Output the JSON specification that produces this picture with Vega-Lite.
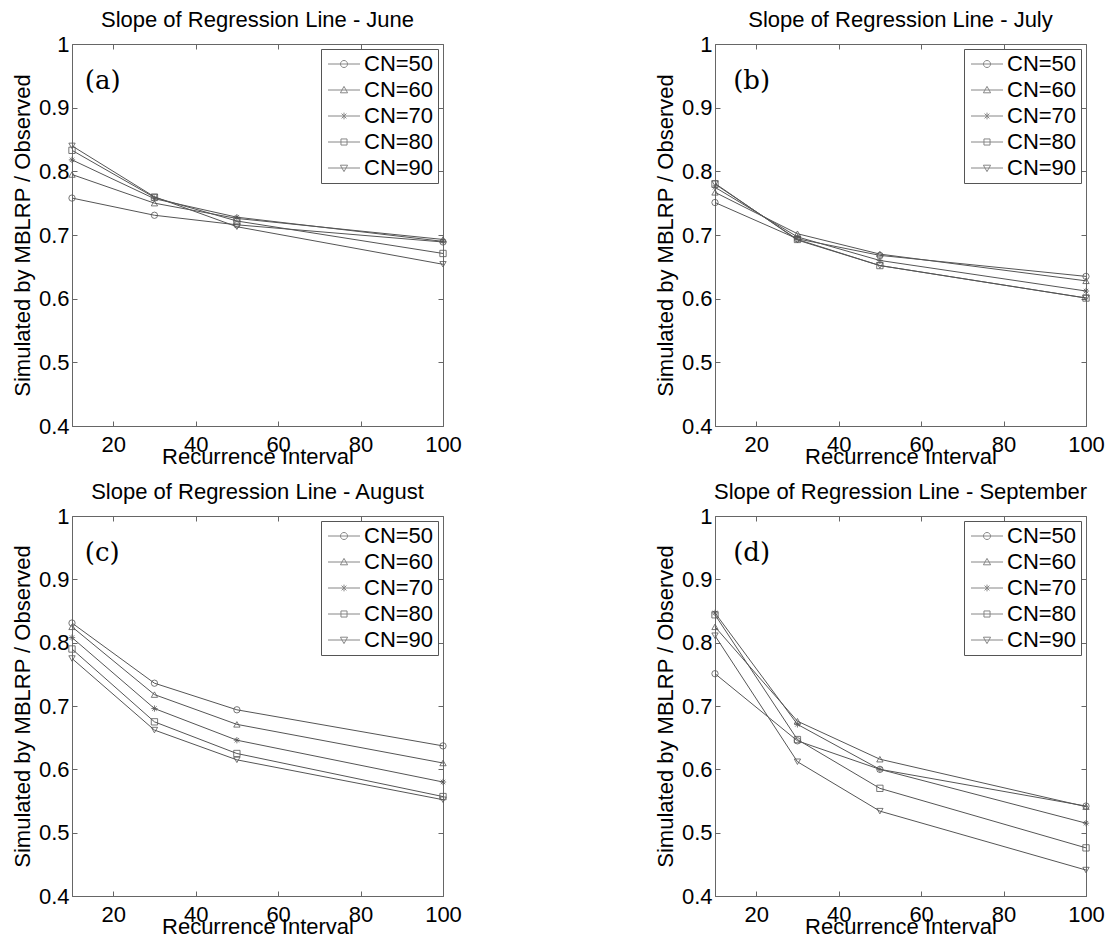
{
  "$schema": "https://vega.github.io/schema/vega-lite/v6.json",
  "background": "white",
  "padding": {"left": 10, "top": 8, "right": 5, "bottom": 5},
  "datasets": {
    "slopes": [
      {"month": "June", "ri": 10, "cn": "CN=50", "slope": 0.758},
      {"month": "June", "ri": 10, "cn": "CN=60", "slope": 0.795},
      {"month": "June", "ri": 10, "cn": "CN=70", "slope": 0.818},
      {"month": "June", "ri": 10, "cn": "CN=80", "slope": 0.833},
      {"month": "June", "ri": 10, "cn": "CN=90", "slope": 0.840},
      {"month": "June", "ri": 30, "cn": "CN=50", "slope": 0.731},
      {"month": "June", "ri": 30, "cn": "CN=60", "slope": 0.750},
      {"month": "June", "ri": 30, "cn": "CN=70", "slope": 0.757},
      {"month": "June", "ri": 30, "cn": "CN=80", "slope": 0.759},
      {"month": "June", "ri": 30, "cn": "CN=90", "slope": 0.760},
      {"month": "June", "ri": 50, "cn": "CN=50", "slope": 0.716},
      {"month": "June", "ri": 50, "cn": "CN=60", "slope": 0.726},
      {"month": "June", "ri": 50, "cn": "CN=70", "slope": 0.728},
      {"month": "June", "ri": 50, "cn": "CN=80", "slope": 0.722},
      {"month": "June", "ri": 50, "cn": "CN=90", "slope": 0.713},
      {"month": "June", "ri": 100, "cn": "CN=50", "slope": 0.689},
      {"month": "June", "ri": 100, "cn": "CN=60", "slope": 0.693},
      {"month": "June", "ri": 100, "cn": "CN=70", "slope": 0.690},
      {"month": "June", "ri": 100, "cn": "CN=80", "slope": 0.671},
      {"month": "June", "ri": 100, "cn": "CN=90", "slope": 0.654},
      {"month": "July", "ri": 10, "cn": "CN=50", "slope": 0.751},
      {"month": "July", "ri": 10, "cn": "CN=60", "slope": 0.767},
      {"month": "July", "ri": 10, "cn": "CN=70", "slope": 0.775},
      {"month": "July", "ri": 10, "cn": "CN=80", "slope": 0.780},
      {"month": "July", "ri": 10, "cn": "CN=90", "slope": 0.781},
      {"month": "July", "ri": 30, "cn": "CN=50", "slope": 0.694},
      {"month": "July", "ri": 30, "cn": "CN=60", "slope": 0.702},
      {"month": "July", "ri": 30, "cn": "CN=70", "slope": 0.697},
      {"month": "July", "ri": 30, "cn": "CN=80", "slope": 0.693},
      {"month": "July", "ri": 30, "cn": "CN=90", "slope": 0.692},
      {"month": "July", "ri": 50, "cn": "CN=50", "slope": 0.668},
      {"month": "July", "ri": 50, "cn": "CN=60", "slope": 0.670},
      {"month": "July", "ri": 50, "cn": "CN=70", "slope": 0.660},
      {"month": "July", "ri": 50, "cn": "CN=80", "slope": 0.652},
      {"month": "July", "ri": 50, "cn": "CN=90", "slope": 0.652},
      {"month": "July", "ri": 100, "cn": "CN=50", "slope": 0.635},
      {"month": "July", "ri": 100, "cn": "CN=60", "slope": 0.628},
      {"month": "July", "ri": 100, "cn": "CN=70", "slope": 0.612},
      {"month": "July", "ri": 100, "cn": "CN=80", "slope": 0.601},
      {"month": "July", "ri": 100, "cn": "CN=90", "slope": 0.601},
      {"month": "August", "ri": 10, "cn": "CN=50", "slope": 0.831},
      {"month": "August", "ri": 10, "cn": "CN=60", "slope": 0.825},
      {"month": "August", "ri": 10, "cn": "CN=70", "slope": 0.808},
      {"month": "August", "ri": 10, "cn": "CN=80", "slope": 0.790},
      {"month": "August", "ri": 10, "cn": "CN=90", "slope": 0.775},
      {"month": "August", "ri": 30, "cn": "CN=50", "slope": 0.736},
      {"month": "August", "ri": 30, "cn": "CN=60", "slope": 0.718},
      {"month": "August", "ri": 30, "cn": "CN=70", "slope": 0.696},
      {"month": "August", "ri": 30, "cn": "CN=80", "slope": 0.675},
      {"month": "August", "ri": 30, "cn": "CN=90", "slope": 0.662},
      {"month": "August", "ri": 50, "cn": "CN=50", "slope": 0.694},
      {"month": "August", "ri": 50, "cn": "CN=60", "slope": 0.671},
      {"month": "August", "ri": 50, "cn": "CN=70", "slope": 0.646},
      {"month": "August", "ri": 50, "cn": "CN=80", "slope": 0.625},
      {"month": "August", "ri": 50, "cn": "CN=90", "slope": 0.615},
      {"month": "August", "ri": 100, "cn": "CN=50", "slope": 0.637},
      {"month": "August", "ri": 100, "cn": "CN=60", "slope": 0.610},
      {"month": "August", "ri": 100, "cn": "CN=70", "slope": 0.580},
      {"month": "August", "ri": 100, "cn": "CN=80", "slope": 0.557},
      {"month": "August", "ri": 100, "cn": "CN=90", "slope": 0.552},
      {"month": "September", "ri": 10, "cn": "CN=50", "slope": 0.751},
      {"month": "September", "ri": 10, "cn": "CN=60", "slope": 0.825},
      {"month": "September", "ri": 10, "cn": "CN=70", "slope": 0.847},
      {"month": "September", "ri": 10, "cn": "CN=80", "slope": 0.844},
      {"month": "September", "ri": 10, "cn": "CN=90", "slope": 0.811},
      {"month": "September", "ri": 30, "cn": "CN=50", "slope": 0.645},
      {"month": "September", "ri": 30, "cn": "CN=60", "slope": 0.676},
      {"month": "September", "ri": 30, "cn": "CN=70", "slope": 0.671},
      {"month": "September", "ri": 30, "cn": "CN=80", "slope": 0.647},
      {"month": "September", "ri": 30, "cn": "CN=90", "slope": 0.612},
      {"month": "September", "ri": 50, "cn": "CN=50", "slope": 0.600},
      {"month": "September", "ri": 50, "cn": "CN=60", "slope": 0.616},
      {"month": "September", "ri": 50, "cn": "CN=70", "slope": 0.600},
      {"month": "September", "ri": 50, "cn": "CN=80", "slope": 0.570},
      {"month": "September", "ri": 50, "cn": "CN=90", "slope": 0.534},
      {"month": "September", "ri": 100, "cn": "CN=50", "slope": 0.542},
      {"month": "September", "ri": 100, "cn": "CN=60", "slope": 0.541},
      {"month": "September", "ri": 100, "cn": "CN=70", "slope": 0.515},
      {"month": "September", "ri": 100, "cn": "CN=80", "slope": 0.476},
      {"month": "September", "ri": 100, "cn": "CN=90", "slope": 0.441}
    ],
    "panels": [
      {"month": "June", "label": "(a)"},
      {"month": "July", "label": "(b)"},
      {"month": "August", "label": "(c)"},
      {"month": "September", "label": "(d)"}
    ]
  },
  "config": {
    "font": "Liberation Sans",
    "view": {"stroke": "#666666", "strokeWidth": 1},
    "axis": {
      "grid": false,
      "domainColor": "#666666",
      "tickColor": "#666666",
      "tickSize": -5,
      "labelFlush": false,
      "labelOverlap": false,
      "labelFont": "Liberation Sans",
      "labelFontSize": 22,
      "labelColor": "black",
      "titleFont": "Liberation Sans",
      "titleFontSize": 22,
      "titleFontWeight": "normal",
      "titleColor": "black"
    },
    "axisX": {"labelPadding": 13, "titleY": 37, "titleBaseline": "alphabetic"},
    "axisY": {"labelPadding": 8, "titleX": -50, "titleBaseline": "middle"},
    "axisTop": {"maxExtent": 0, "minExtent": 0},
    "axisRight": {"maxExtent": 0, "minExtent": 0},
    "title": {
      "font": "Liberation Sans",
      "fontSize": 22,
      "fontWeight": "normal",
      "color": "black",
      "offset": 1,
      "baseline": "alphabetic",
      "frame": "group",
      "anchor": "middle"
    },
    "legend": {
      "orient": "top-right",
      "offset": 5,
      "padding": 4,
      "strokeColor": "#555555",
      "fillColor": "white",
      "labelFont": "Liberation Sans",
      "labelFontSize": 22,
      "labelColor": "black",
      "labelOffset": 17,
      "symbolSize": 256,
      "symbolStrokeWidth": 1,
      "symbolStrokeColor": "#555555",
      "rowPadding": 4
    }
  },
  "bounds": "flush",
  "columns": 2,
  "spacing": {"row": 90, "column": 272},
  "concat": [
        {
          "width": 371, "height": 382,
          "title": "Slope of Regression Line - June",
          "data": {"name": "slopes"},
          "transform": [{"filter": "datum.month === 'June'"}],
          "resolve": {"axis": {"x": "independent", "y": "independent"}, "scale": {"shape": "independent"}, "legend": {"shape": "independent"}},
          "layer": [
            {"mark": {"type": "line", "color": "#555555", "strokeWidth": 1},
             "encoding": {
               "x": {"field": "ri", "type": "quantitative", "scale": {"domain": [10, 100], "nice": false, "zero": false}, "axis": {"orient": "bottom", "title": "Recurrence Interval", "values": [20, 40, 60, 80, 100]}},
               "y": {"field": "slope", "type": "quantitative", "scale": {"domain": [0.4, 1], "nice": false, "zero": false}, "axis": {"orient": "left", "title": "Simulated by MBLRP / Observed", "values": [0.4, 0.5, 0.6, 0.7, 0.8, 0.9, 1], "format": ".1~f"}},
               "detail": {"field": "cn", "type": "nominal"}
             }},
            {"mark": {"type": "point", "filled": false, "color": "#555555", "strokeWidth": 0.8, "size": 40, "opacity": 1},
             "encoding": {
               "x": {"field": "ri", "type": "quantitative", "scale": {"domain": [10, 100], "nice": false, "zero": false}, "axis": {"orient": "top", "labels": false, "title": null, "domain": false, "values": [20, 40, 60, 80, 100]}},
               "y": {"field": "slope", "type": "quantitative", "scale": {"domain": [0.4, 1], "nice": false, "zero": false}, "axis": {"orient": "right", "labels": false, "title": null, "domain": false, "values": [0.4, 0.5, 0.6, 0.7, 0.8, 0.9, 1]}},
               "shape": {"field": "cn", "type": "nominal", "scale": {"domain": ["CN=50", "CN=60", "CN=70", "CN=80", "CN=90"], "range": ["circle", "triangle-up", "M-1,0L1,0M0,-1L0,1M-0.7,-0.7L0.7,0.7M-0.7,0.7L0.7,-0.7", "square", "triangle-down"]}, "legend": null}
             }},
            {"transform": [{"filter": "datum.cn === 'none'"}],
             "mark": {"type": "point", "filled": false, "color": "#555555", "strokeWidth": 1},
             "encoding": {
               "x": {"field": "ri", "type": "quantitative", "scale": {"domain": [10, 100], "nice": false, "zero": false}, "axis": null},
               "y": {"field": "slope", "type": "quantitative", "scale": {"domain": [0.4, 1], "nice": false, "zero": false}, "axis": null},
               "shape": {"field": "cn", "type": "nominal", "scale": {"domain": ["CN=50", "CN=60", "CN=70", "CN=80", "CN=90"], "range": ["M-1,0L3,0M1.44,0A0.44,0.44 0 1,1 0.56,0A0.44,0.44 0 1,1 1.44,0", "M-1,0L3,0M1,-0.45L1.45,0.35L0.55,0.35Z", "M-1,0L3,0M1,-0.42L1,0.42M0.7,-0.3L1.3,0.3M0.7,0.3L1.3,-0.3", "M-1,0L3,0M0.62,-0.38L1.38,-0.38L1.38,0.38L0.62,0.38Z", "M-1,0L3,0M1,0.45L1.45,-0.35L0.55,-0.35Z"]}, "legend": {"title": null}}
             }},
            {"data": {"name": "panels"},
             "transform": [{"filter": "datum.month === 'June'"}],
             "mark": {"type": "text", "font": "DejaVu Serif", "fontSize": 26, "align": "left", "baseline": "alphabetic", "color": "black"},
             "encoding": {
               "x": {"datum": 13.1, "type": "quantitative", "scale": {"domain": [10, 100], "nice": false, "zero": false}, "axis": null},
               "y": {"datum": 0.929, "type": "quantitative", "scale": {"domain": [0.4, 1], "nice": false, "zero": false}, "axis": null},
               "text": {"field": "label"}
             }}
          ]
        },
        {
          "width": 371, "height": 382,
          "title": "Slope of Regression Line - July",
          "data": {"name": "slopes"},
          "transform": [{"filter": "datum.month === 'July'"}],
          "resolve": {"axis": {"x": "independent", "y": "independent"}, "scale": {"shape": "independent"}, "legend": {"shape": "independent"}},
          "layer": [
            {"mark": {"type": "line", "color": "#555555", "strokeWidth": 1},
             "encoding": {
               "x": {"field": "ri", "type": "quantitative", "scale": {"domain": [10, 100], "nice": false, "zero": false}, "axis": {"orient": "bottom", "title": "Recurrence Interval", "values": [20, 40, 60, 80, 100]}},
               "y": {"field": "slope", "type": "quantitative", "scale": {"domain": [0.4, 1], "nice": false, "zero": false}, "axis": {"orient": "left", "title": "Simulated by MBLRP / Observed", "values": [0.4, 0.5, 0.6, 0.7, 0.8, 0.9, 1], "format": ".1~f"}},
               "detail": {"field": "cn", "type": "nominal"}
             }},
            {"mark": {"type": "point", "filled": false, "color": "#555555", "strokeWidth": 0.8, "size": 40, "opacity": 1},
             "encoding": {
               "x": {"field": "ri", "type": "quantitative", "scale": {"domain": [10, 100], "nice": false, "zero": false}, "axis": {"orient": "top", "labels": false, "title": null, "domain": false, "values": [20, 40, 60, 80, 100]}},
               "y": {"field": "slope", "type": "quantitative", "scale": {"domain": [0.4, 1], "nice": false, "zero": false}, "axis": {"orient": "right", "labels": false, "title": null, "domain": false, "values": [0.4, 0.5, 0.6, 0.7, 0.8, 0.9, 1]}},
               "shape": {"field": "cn", "type": "nominal", "scale": {"domain": ["CN=50", "CN=60", "CN=70", "CN=80", "CN=90"], "range": ["circle", "triangle-up", "M-1,0L1,0M0,-1L0,1M-0.7,-0.7L0.7,0.7M-0.7,0.7L0.7,-0.7", "square", "triangle-down"]}, "legend": null}
             }},
            {"transform": [{"filter": "datum.cn === 'none'"}],
             "mark": {"type": "point", "filled": false, "color": "#555555", "strokeWidth": 1},
             "encoding": {
               "x": {"field": "ri", "type": "quantitative", "scale": {"domain": [10, 100], "nice": false, "zero": false}, "axis": null},
               "y": {"field": "slope", "type": "quantitative", "scale": {"domain": [0.4, 1], "nice": false, "zero": false}, "axis": null},
               "shape": {"field": "cn", "type": "nominal", "scale": {"domain": ["CN=50", "CN=60", "CN=70", "CN=80", "CN=90"], "range": ["M-1,0L3,0M1.44,0A0.44,0.44 0 1,1 0.56,0A0.44,0.44 0 1,1 1.44,0", "M-1,0L3,0M1,-0.45L1.45,0.35L0.55,0.35Z", "M-1,0L3,0M1,-0.42L1,0.42M0.7,-0.3L1.3,0.3M0.7,0.3L1.3,-0.3", "M-1,0L3,0M0.62,-0.38L1.38,-0.38L1.38,0.38L0.62,0.38Z", "M-1,0L3,0M1,0.45L1.45,-0.35L0.55,-0.35Z"]}, "legend": {"title": null}}
             }},
            {"data": {"name": "panels"},
             "transform": [{"filter": "datum.month === 'July'"}],
             "mark": {"type": "text", "font": "DejaVu Serif", "fontSize": 26, "align": "left", "baseline": "alphabetic", "color": "black"},
             "encoding": {
               "x": {"datum": 14.4, "type": "quantitative", "scale": {"domain": [10, 100], "nice": false, "zero": false}, "axis": null},
               "y": {"datum": 0.929, "type": "quantitative", "scale": {"domain": [0.4, 1], "nice": false, "zero": false}, "axis": null},
               "text": {"field": "label"}
             }}
          ]
        },
        {
          "width": 371, "height": 380,
          "title": "Slope of Regression Line - August",
          "data": {"name": "slopes"},
          "transform": [{"filter": "datum.month === 'August'"}],
          "resolve": {"axis": {"x": "independent", "y": "independent"}, "scale": {"shape": "independent"}, "legend": {"shape": "independent"}},
          "layer": [
            {"mark": {"type": "line", "color": "#555555", "strokeWidth": 1},
             "encoding": {
               "x": {"field": "ri", "type": "quantitative", "scale": {"domain": [10, 100], "nice": false, "zero": false}, "axis": {"orient": "bottom", "title": "Recurrence Interval", "values": [20, 40, 60, 80, 100]}},
               "y": {"field": "slope", "type": "quantitative", "scale": {"domain": [0.4, 1], "nice": false, "zero": false}, "axis": {"orient": "left", "title": "Simulated by MBLRP / Observed", "values": [0.4, 0.5, 0.6, 0.7, 0.8, 0.9, 1], "format": ".1~f"}},
               "detail": {"field": "cn", "type": "nominal"}
             }},
            {"mark": {"type": "point", "filled": false, "color": "#555555", "strokeWidth": 0.8, "size": 40, "opacity": 1},
             "encoding": {
               "x": {"field": "ri", "type": "quantitative", "scale": {"domain": [10, 100], "nice": false, "zero": false}, "axis": {"orient": "top", "labels": false, "title": null, "domain": false, "values": [20, 40, 60, 80, 100]}},
               "y": {"field": "slope", "type": "quantitative", "scale": {"domain": [0.4, 1], "nice": false, "zero": false}, "axis": {"orient": "right", "labels": false, "title": null, "domain": false, "values": [0.4, 0.5, 0.6, 0.7, 0.8, 0.9, 1]}},
               "shape": {"field": "cn", "type": "nominal", "scale": {"domain": ["CN=50", "CN=60", "CN=70", "CN=80", "CN=90"], "range": ["circle", "triangle-up", "M-1,0L1,0M0,-1L0,1M-0.7,-0.7L0.7,0.7M-0.7,0.7L0.7,-0.7", "square", "triangle-down"]}, "legend": null}
             }},
            {"transform": [{"filter": "datum.cn === 'none'"}],
             "mark": {"type": "point", "filled": false, "color": "#555555", "strokeWidth": 1},
             "encoding": {
               "x": {"field": "ri", "type": "quantitative", "scale": {"domain": [10, 100], "nice": false, "zero": false}, "axis": null},
               "y": {"field": "slope", "type": "quantitative", "scale": {"domain": [0.4, 1], "nice": false, "zero": false}, "axis": null},
               "shape": {"field": "cn", "type": "nominal", "scale": {"domain": ["CN=50", "CN=60", "CN=70", "CN=80", "CN=90"], "range": ["M-1,0L3,0M1.44,0A0.44,0.44 0 1,1 0.56,0A0.44,0.44 0 1,1 1.44,0", "M-1,0L3,0M1,-0.45L1.45,0.35L0.55,0.35Z", "M-1,0L3,0M1,-0.42L1,0.42M0.7,-0.3L1.3,0.3M0.7,0.3L1.3,-0.3", "M-1,0L3,0M0.62,-0.38L1.38,-0.38L1.38,0.38L0.62,0.38Z", "M-1,0L3,0M1,0.45L1.45,-0.35L0.55,-0.35Z"]}, "legend": {"title": null}}
             }},
            {"data": {"name": "panels"},
             "transform": [{"filter": "datum.month === 'August'"}],
             "mark": {"type": "text", "font": "DejaVu Serif", "fontSize": 26, "align": "left", "baseline": "alphabetic", "color": "black"},
             "encoding": {
               "x": {"datum": 13.1, "type": "quantitative", "scale": {"domain": [10, 100], "nice": false, "zero": false}, "axis": null},
               "y": {"datum": 0.929, "type": "quantitative", "scale": {"domain": [0.4, 1], "nice": false, "zero": false}, "axis": null},
               "text": {"field": "label"}
             }}
          ]
        },
        {
          "width": 371, "height": 380,
          "title": "Slope of Regression Line - September",
          "data": {"name": "slopes"},
          "transform": [{"filter": "datum.month === 'September'"}],
          "resolve": {"axis": {"x": "independent", "y": "independent"}, "scale": {"shape": "independent"}, "legend": {"shape": "independent"}},
          "layer": [
            {"mark": {"type": "line", "color": "#555555", "strokeWidth": 1},
             "encoding": {
               "x": {"field": "ri", "type": "quantitative", "scale": {"domain": [10, 100], "nice": false, "zero": false}, "axis": {"orient": "bottom", "title": "Recurrence Interval", "values": [20, 40, 60, 80, 100]}},
               "y": {"field": "slope", "type": "quantitative", "scale": {"domain": [0.4, 1], "nice": false, "zero": false}, "axis": {"orient": "left", "title": "Simulated by MBLRP / Observed", "values": [0.4, 0.5, 0.6, 0.7, 0.8, 0.9, 1], "format": ".1~f"}},
               "detail": {"field": "cn", "type": "nominal"}
             }},
            {"mark": {"type": "point", "filled": false, "color": "#555555", "strokeWidth": 0.8, "size": 40, "opacity": 1},
             "encoding": {
               "x": {"field": "ri", "type": "quantitative", "scale": {"domain": [10, 100], "nice": false, "zero": false}, "axis": {"orient": "top", "labels": false, "title": null, "domain": false, "values": [20, 40, 60, 80, 100]}},
               "y": {"field": "slope", "type": "quantitative", "scale": {"domain": [0.4, 1], "nice": false, "zero": false}, "axis": {"orient": "right", "labels": false, "title": null, "domain": false, "values": [0.4, 0.5, 0.6, 0.7, 0.8, 0.9, 1]}},
               "shape": {"field": "cn", "type": "nominal", "scale": {"domain": ["CN=50", "CN=60", "CN=70", "CN=80", "CN=90"], "range": ["circle", "triangle-up", "M-1,0L1,0M0,-1L0,1M-0.7,-0.7L0.7,0.7M-0.7,0.7L0.7,-0.7", "square", "triangle-down"]}, "legend": null}
             }},
            {"transform": [{"filter": "datum.cn === 'none'"}],
             "mark": {"type": "point", "filled": false, "color": "#555555", "strokeWidth": 1},
             "encoding": {
               "x": {"field": "ri", "type": "quantitative", "scale": {"domain": [10, 100], "nice": false, "zero": false}, "axis": null},
               "y": {"field": "slope", "type": "quantitative", "scale": {"domain": [0.4, 1], "nice": false, "zero": false}, "axis": null},
               "shape": {"field": "cn", "type": "nominal", "scale": {"domain": ["CN=50", "CN=60", "CN=70", "CN=80", "CN=90"], "range": ["M-1,0L3,0M1.44,0A0.44,0.44 0 1,1 0.56,0A0.44,0.44 0 1,1 1.44,0", "M-1,0L3,0M1,-0.45L1.45,0.35L0.55,0.35Z", "M-1,0L3,0M1,-0.42L1,0.42M0.7,-0.3L1.3,0.3M0.7,0.3L1.3,-0.3", "M-1,0L3,0M0.62,-0.38L1.38,-0.38L1.38,0.38L0.62,0.38Z", "M-1,0L3,0M1,0.45L1.45,-0.35L0.55,-0.35Z"]}, "legend": {"title": null}}
             }},
            {"data": {"name": "panels"},
             "transform": [{"filter": "datum.month === 'September'"}],
             "mark": {"type": "text", "font": "DejaVu Serif", "fontSize": 26, "align": "left", "baseline": "alphabetic", "color": "black"},
             "encoding": {
               "x": {"datum": 14.4, "type": "quantitative", "scale": {"domain": [10, 100], "nice": false, "zero": false}, "axis": null},
               "y": {"datum": 0.929, "type": "quantitative", "scale": {"domain": [0.4, 1], "nice": false, "zero": false}, "axis": null},
               "text": {"field": "label"}
             }}
          ]
        }
  ]
}
